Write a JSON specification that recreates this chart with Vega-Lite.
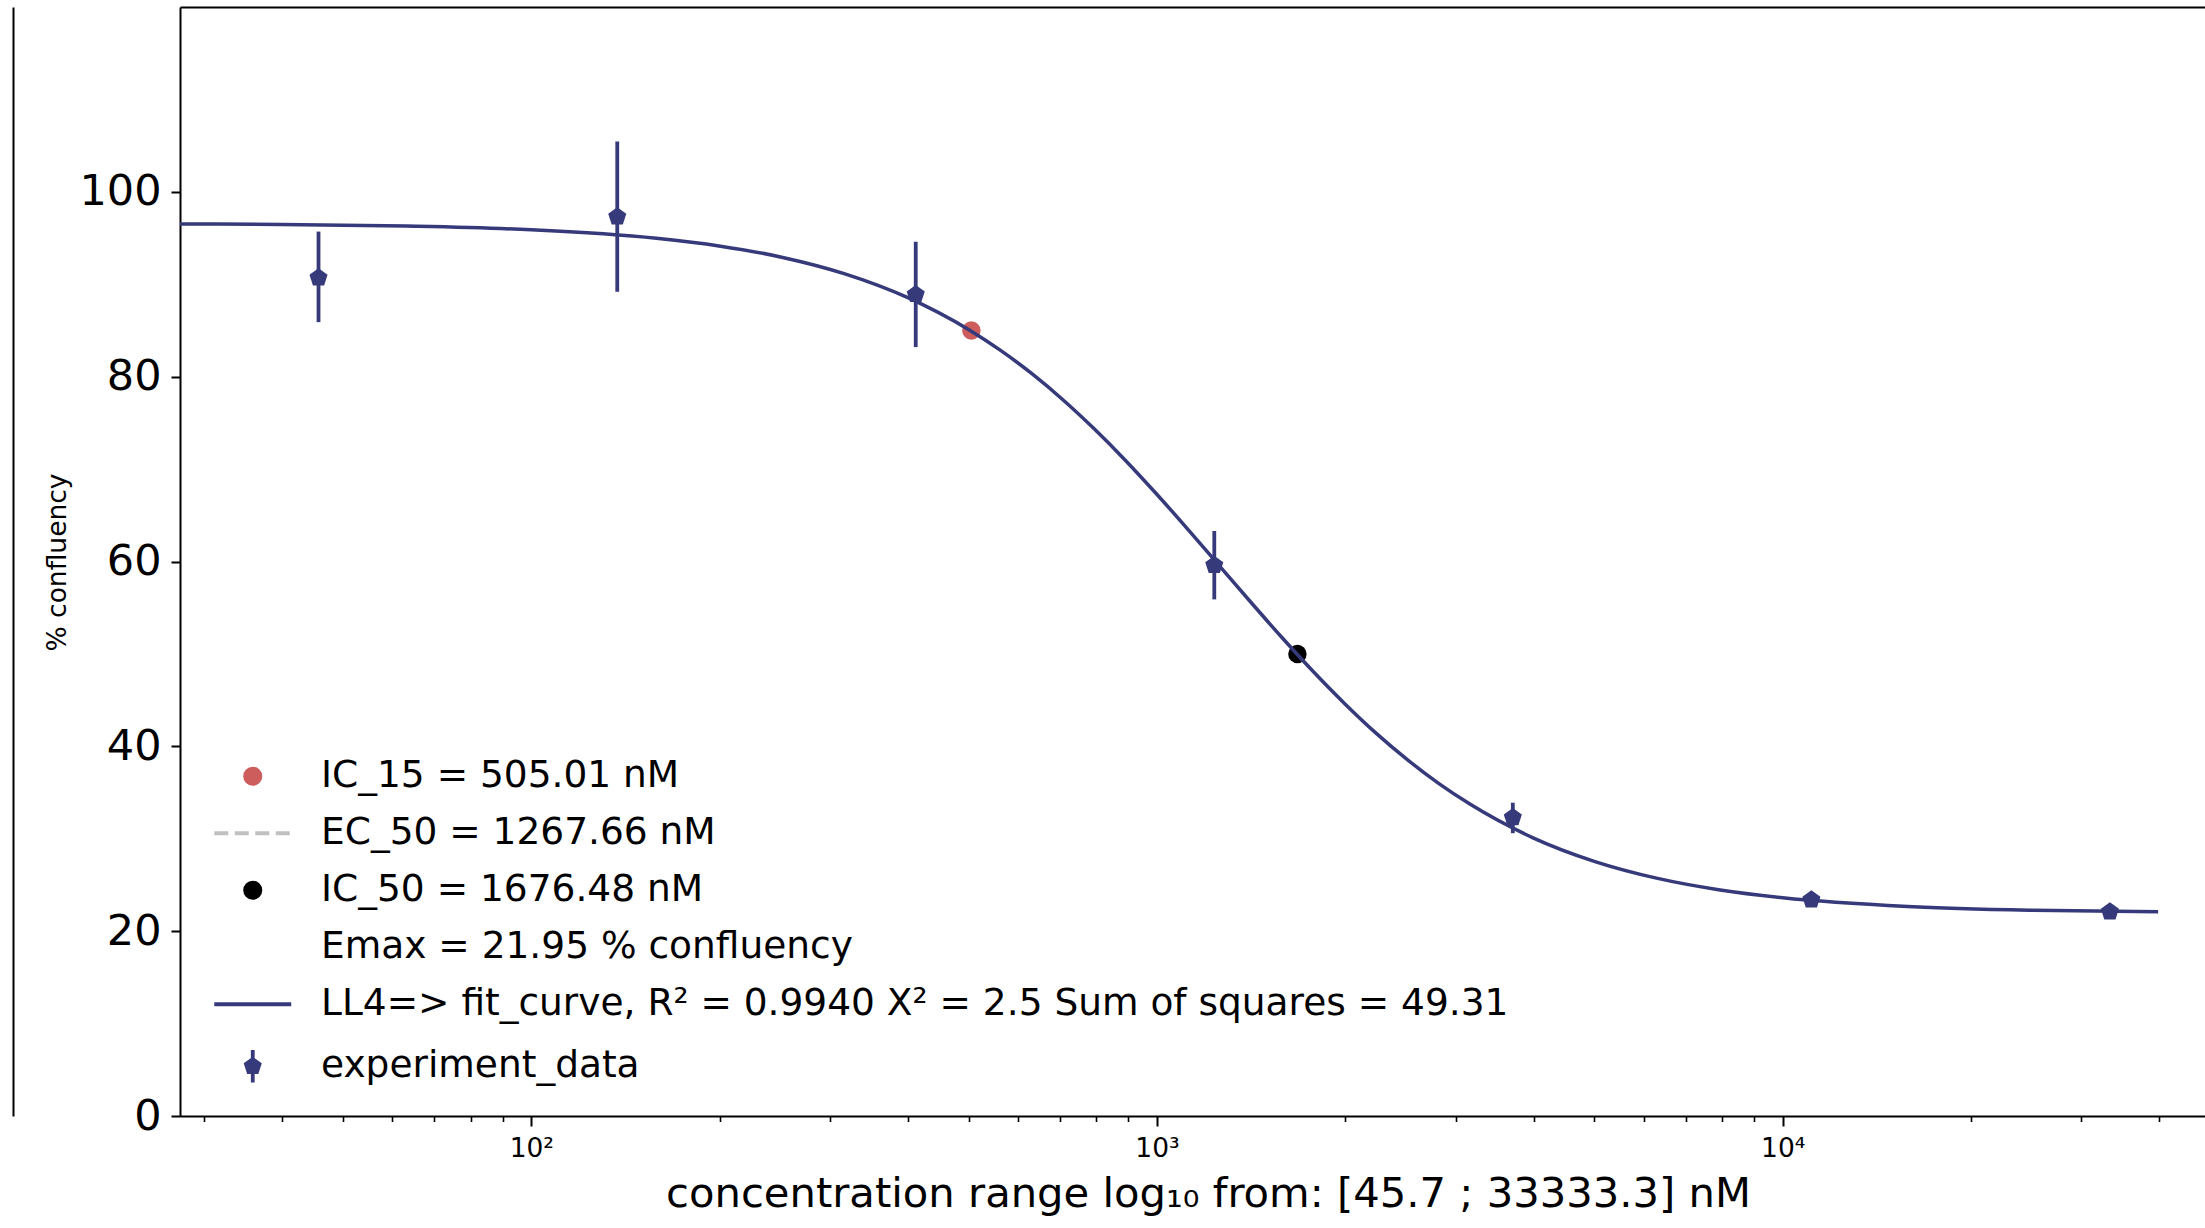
{
  "$schema": "https://vega.github.io/schema/vega-lite/v6.json",
  "width": 2025,
  "height": 1109,
  "autosize": {"type": "none"},
  "padding": {"left": 180, "top": 7, "right": 0, "bottom": 112},
  "background": "white",
  "config": {
    "font": "DejaVu Sans",
    "view": {"stroke": null},
    "axis": {"grid": false, "domainColor": "black", "tickColor": "black", "labelColor": "black", "titleColor": "black", "labelFont": "DejaVu Sans", "titleFont": "DejaVu Sans", "titleFontWeight": "normal"}
  },
  "datasets": {
    "curve": [
      {"x": 27.45, "y": 96.53}, {"x": 39.81, "y": 96.47}, {"x": 63.1, "y": 96.29}, {"x": 100, "y": 95.89},
      {"x": 158.5, "y": 94.97}, {"x": 199.5, "y": 94.15}, {"x": 251.2, "y": 92.93}, {"x": 316.2, "y": 91.15},
      {"x": 398.1, "y": 88.6}, {"x": 501.2, "y": 85.05}, {"x": 562.3, "y": 82.84}, {"x": 631.0, "y": 80.32},
      {"x": 707.9, "y": 77.48}, {"x": 794.3, "y": 74.33}, {"x": 891.3, "y": 70.91}, {"x": 1000, "y": 67.25},
      {"x": 1122, "y": 63.43}, {"x": 1258.9, "y": 59.51}, {"x": 1412.5, "y": 55.59}, {"x": 1584.9, "y": 51.75},
      {"x": 1778.3, "y": 48.07}, {"x": 1995.3, "y": 44.62}, {"x": 2238.7, "y": 41.43}, {"x": 2511.9, "y": 38.56},
      {"x": 2818.4, "y": 35.99}, {"x": 3162.3, "y": 33.75}, {"x": 3981.1, "y": 30.13}, {"x": 5011.9, "y": 27.53},
      {"x": 6309.6, "y": 25.71}, {"x": 7943.3, "y": 24.46}, {"x": 10000, "y": 23.62}, {"x": 15849, "y": 22.68},
      {"x": 25119, "y": 22.26}, {"x": 39811, "y": 22.09}
    ],
    "points": [
      {"x": 45.7, "y": 90.7, "lo": 85.9, "hi": 95.7},
      {"x": 137.2, "y": 97.3, "lo": 89.2, "hi": 105.45},
      {"x": 411.5, "y": 88.9, "lo": 83.2, "hi": 94.6},
      {"x": 1234.6, "y": 59.6, "lo": 55.9, "hi": 63.3},
      {"x": 3703.7, "y": 32.3, "lo": 30.6, "hi": 33.9},
      {"x": 11111.1, "y": 23.4, "lo": 23.0, "hi": 23.8},
      {"x": 33333.3, "y": 22.1, "lo": 21.8, "hi": 22.4}
    ],
    "ic": [
      {"x": 505.01, "y": 85, "key": "a"},
      {"x": 1676.48, "y": 50, "key": "c"}
    ]
  },
  "layer": [
    {
      "mark": {"type": "rule", "color": "#c0c0c0", "strokeWidth": 3.5, "strokeDash": [14, 6.5]},
      "encoding": {
        "x": {
          "datum": 1267.66, "type": "quantitative",
          "scale": {"type": "log", "domain": [27.45, 47300], "nice": false},
          "axis": {"orient": "bottom", "values": [30, 40, 50, 60, 70, 80, 90, 200, 300, 400, 500, 600, 700, 800, 900, 2000, 3000, 4000, 5000, 6000, 7000, 8000, 9000, 20000, 30000, 40000], "labels": false, "domain": false, "tickSize": 5.5, "tickWidth": 1.6, "title": null}
        }
      }
    },
    {
      "data": {"name": "ic"},
      "mark": {"type": "point", "opacity": 1, "size": 340},
      "encoding": {
        "x": {"field": "x", "type": "quantitative", "axis": {"orient": "top", "ticks": false, "labels": false, "title": null, "domainWidth": 2}},
        "y": {"field": "y", "type": "quantitative", "scale": {"domain": [0, 120], "nice": false, "zero": false},
              "axis": {"orient": "left", "offset": 167, "domainWidth": 2, "ticks": false, "labels": false, "title": null}},
        "fill": {
          "field": "key", "type": "nominal",
          "scale": {"domain": ["a", "b", "c", "d", "e", "f"], "range": ["#cd5c5c", "transparent", "#000000", "transparent", "transparent", "#363a7b"]},
          "legend": {
            "orient": "none", "legendX": 54, "legendY": 750.5, "title": null, "padding": 0,
            "labelExpr": "datum.value == 'a' ? 'IC_15 = 505.01 nM' : datum.value == 'b' ? 'EC_50 = 1267.66 nM' : datum.value == 'c' ? 'IC_50 = 1676.48 nM' : datum.value == 'd' ? 'Emax = 21.95 % confluency' : datum.value == 'e' ? 'LL4=> fit_curve, R² = 0.9940 X² = 2.5 Sum of squares = 49.31' : 'experiment_data'",
            "labelFontSize": 37.5, "labelFont": "DejaVu Sans", "labelColor": "black", "labelLimit": 3000,
            "labelOffset": 49.5, "symbolSize": 361, "rowPadding": 18, "symbolStrokeWidth": 4, "symbolOpacity": 1
          }
        },
        "stroke": {
          "field": "key", "type": "nominal",
          "scale": {"domain": ["a", "b", "c", "d", "e", "f"], "range": ["transparent", "#c0c0c0", "transparent", "transparent", "#363a7b", "transparent"]},
          "legend": {
            "orient": "none", "legendX": 54, "legendY": 750.5, "title": null, "padding": 0,
            "labelExpr": "datum.value == 'a' ? 'IC_15 = 505.01 nM' : datum.value == 'b' ? 'EC_50 = 1267.66 nM' : datum.value == 'c' ? 'IC_50 = 1676.48 nM' : datum.value == 'd' ? 'Emax = 21.95 % confluency' : datum.value == 'e' ? 'LL4=> fit_curve, R² = 0.9940 X² = 2.5 Sum of squares = 49.31' : 'experiment_data'",
            "labelFontSize": 37.5, "labelFont": "DejaVu Sans", "labelColor": "black", "labelLimit": 3000,
            "labelOffset": 49.5, "symbolSize": 361, "rowPadding": 18, "symbolStrokeWidth": 4, "symbolOpacity": 1
          }
        },
        "shape": {
          "field": "key", "type": "nominal",
          "scale": {"domain": ["a", "b", "c", "d", "e", "f"], "range": ["circle", "M-4.05,0H4.05", "circle", "circle", "M-4.05,0H4.05", "M-0.2,-1.7H0.2V1.7H-0.2Z M0,-1L0.951,-0.309L0.588,0.809L-0.588,0.809L-0.951,-0.309Z"]},
          "legend": {
            "orient": "none", "legendX": 54, "legendY": 750.5, "title": null, "padding": 0,
            "labelExpr": "datum.value == 'a' ? 'IC_15 = 505.01 nM' : datum.value == 'b' ? 'EC_50 = 1267.66 nM' : datum.value == 'c' ? 'IC_50 = 1676.48 nM' : datum.value == 'd' ? 'Emax = 21.95 % confluency' : datum.value == 'e' ? 'LL4=> fit_curve, R² = 0.9940 X² = 2.5 Sum of squares = 49.31' : 'experiment_data'",
            "labelFontSize": 37.5, "labelFont": "DejaVu Sans", "labelColor": "black", "labelLimit": 3000,
            "labelOffset": 49.5, "symbolSize": 361, "rowPadding": 18, "symbolStrokeWidth": 4, "symbolOpacity": 1
          }
        },
        "strokeDash": {
          "field": "key", "type": "nominal",
          "scale": {"domain": ["a", "b", "c", "d", "e", "f"], "range": [[1, 0], [14, 6.5], [1, 0], [1, 0], [1, 0], [1, 0]]},
          "legend": {
            "orient": "none", "legendX": 54, "legendY": 750.5, "title": null, "padding": 0,
            "labelExpr": "datum.value == 'a' ? 'IC_15 = 505.01 nM' : datum.value == 'b' ? 'EC_50 = 1267.66 nM' : datum.value == 'c' ? 'IC_50 = 1676.48 nM' : datum.value == 'd' ? 'Emax = 21.95 % confluency' : datum.value == 'e' ? 'LL4=> fit_curve, R² = 0.9940 X² = 2.5 Sum of squares = 49.31' : 'experiment_data'",
            "labelFontSize": 37.5, "labelFont": "DejaVu Sans", "labelColor": "black", "labelLimit": 3000,
            "labelOffset": 49.5, "symbolSize": 361, "rowPadding": 18, "symbolStrokeWidth": 4, "symbolOpacity": 1
          }
        }
      }
    },
    {
      "data": {"name": "curve"},
      "mark": {"type": "line", "color": "#363a7b", "strokeWidth": 3.5, "interpolate": "monotone"},
      "encoding": {
        "x": {"field": "x", "type": "quantitative",
              "axis": {"orient": "bottom", "values": [100, 1000, 10000], "labelExpr": "datum.value == 100 ? '10²' : datum.value == 1000 ? '10³' : '10⁴'", "tickSize": 10, "tickWidth": 2, "domainWidth": 2, "labelFontSize": 26.5, "labelPadding": 9,
                       "title": "concentration range log₁₀ from: [45.7 ; 33333.3] nM", "titleFontSize": 41.7, "titleX": 1028, "titleY": 90, "titleBaseline": "alphabetic", "titleAlign": "center"}},
        "y": {"field": "y", "type": "quantitative",
              "axis": {"orient": "left", "values": [0, 20, 40, 60, 80, 100], "tickSize": 9, "tickWidth": 2, "domainWidth": 2, "labelFontSize": 43, "labelPadding": 10,
                       "title": "% confluency", "titleFontSize": 26.5, "titleX": -123, "titleY": 555, "titleAngle": 270, "titleBaseline": "middle", "titleAlign": "center"}}
      }
    },
    {
      "data": {"name": "points"},
      "mark": {"type": "rule", "color": "#363a7b", "strokeWidth": 3.8},
      "encoding": {
        "x": {"field": "x", "type": "quantitative", "axis": null},
        "y": {"field": "lo", "type": "quantitative", "axis": null},
        "y2": {"field": "hi"}
      }
    },
    {
      "data": {"name": "points"},
      "mark": {"type": "point", "filled": true, "opacity": 1, "size": 361, "color": "#363a7b", "shape": "M0,-1L0.951,-0.309L0.588,0.809L-0.588,0.809L-0.951,-0.309Z"},
      "encoding": {
        "x": {"field": "x", "type": "quantitative", "axis": null},
        "y": {"field": "y", "type": "quantitative", "axis": null}
      }
    }
  ],
  "resolve": {"axis": {"x": "independent", "y": "independent"}}
}
